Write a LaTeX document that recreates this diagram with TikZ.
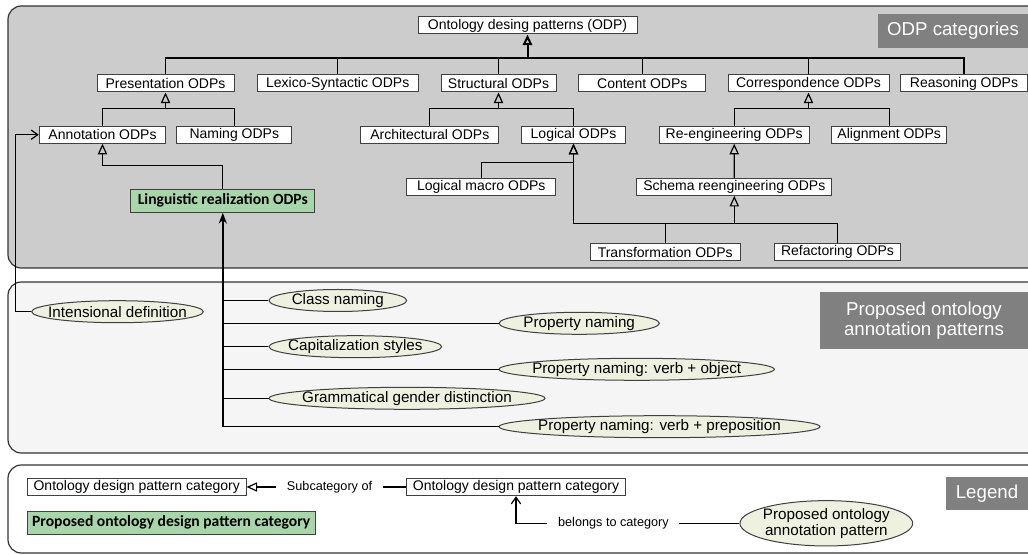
\documentclass[tikz,border=0pt]{standalone}
\usepackage{fontspec}
\setmainfont{Liberation Sans}
\newfontfamily\calibri{Carlito}
\usetikzlibrary{arrows.meta,shapes.geometric}
\definecolor{panelgray}{RGB}{204,204,204}
\definecolor{panellight}{RGB}{245,245,245}
\definecolor{taggray}{RGB}{128,128,128}
\definecolor{newgreen}{RGB}{168,213,170}
\definecolor{annofill}{RGB}{238,240,224}

\begin{document}
\begin{tikzpicture}[x=0.75pt,y=-0.75pt,line width=0.9pt,
  wd/.style={minimum width=#1*0.75pt},
  odp/.style={draw=black!75,line width=0.75pt,fill=white,inner xsep=2pt,inner ysep=0pt,
    minimum height=12.75pt,font=\fontsize{10.5}{12}\selectfont},
  newodp/.style={odp,fill=newgreen,minimum height=17.25pt,
    font=\calibri\bfseries\fontsize{11.7}{13}\selectfont},
  anno/.style={ellipse,draw=black!75,line width=0.75pt,fill=annofill,inner sep=-2cm,
    minimum height=16.5pt,font=\fontsize{11.4}{12}\selectfont},
  tag/.style={fill=taggray,text=white,inner sep=0pt,align=center,
    font=\fontsize{14}{15}\selectfont},
  sub/.style={-{Triangle[open,length=8pt,width=7pt]}},
  belong/.style={-{Straight Barb[length=5pt,width=7pt]}},
  note/.style={fill=white,inner xsep=8pt,inner ysep=1pt,font=\fontsize{9.5}{11}\selectfont}]
  \useasboundingbox (0,0) rectangle (1028,555);

  \fill[panelgray,rounded corners=10] (1040,6) -- (8,6) -- (8,268) -- (1040,268) -- cycle;
  \draw[black!80,rounded corners=10] (1040,6) -- (8,6) -- (8,268) -- (1040,268);
  \fill[panellight,rounded corners=10] (1040,282) -- (8,282) -- (8,453) -- (1040,453) -- cycle;
  \draw[black!80,rounded corners=10] (1040,282) -- (8,282) -- (8,453) -- (1040,453);
  \draw[black!80,rounded corners=10] (1040,465) -- (8,465) -- (8,553) -- (1040,553);

  \node[tag,minimum width=150*0.75pt,minimum height=34*0.75pt] (tagodp) at (953,31) {ODP categories};
  \node[tag,minimum width=208*0.75pt,minimum height=57*0.75pt] (taganno) at (924,320.5) {Proposed ontology\\annotation patterns};
  \node[tag,minimum width=82*0.75pt,minimum height=33*0.75pt] (taglegend) at (987,493.5) {Legend};

  \node[odp,wd=219] (odp) at (527.5,25.5) {Ontology desing patterns (ODP)};
  \node[odp,wd=137] (pres) at (165.5,83.5) {Presentation ODPs};
  \node[odp,wd=161] (lexsyn) at (337.7,83.5) {Lexico-Syntactic ODPs};
  \node[odp,wd=115] (struct) at (498.5,83.5) {Structural ODPs};
  \node[odp,wd=126.7] (content) at (642.3,83.5) {Content ODPs};
  \node[odp,wd=161] (corresp) at (808.5,83.5) {Correspondence ODPs};
  \node[odp,wd=126.3] (reason) at (964,83.5) {Reasoning ODPs};
  \node[odp,wd=126.4] (annot) at (102.5,134.7) {Annotation ODPs};
  \node[odp,wd=115.3] (naming) at (234.3,134.7) {Naming ODPs};
  \node[odp,wd=138.3] (archit) at (429.8,134.7) {Architectural ODPs};
  \node[odp,wd=103.6] (logical) at (573.5,134.7) {Logical ODPs};
  \node[odp,wd=149.7] (reeng) at (734.2,134.7) {Re-engineering ODPs};
  \node[odp,wd=115] (align) at (889.2,134.7) {Alignment ODPs};
  \node[newodp,wd=184.3,minimum height=23*0.75pt] (lingreal) at (222.8,200.8) {Linguistic realization ODPs};
  \node[odp,wd=149.3] (logmacro) at (481.3,186.8) {Logical macro ODPs};
  \node[odp,wd=195.3] (schema) at (734.3,186.8) {Schema reengineering ODPs};
  \node[odp,wd=149.7] (transf) at (665.2,252) {Transformation ODPs};
  \node[odp,wd=126.4] (refact) at (837.5,252) {Refactoring ODPs};

  \node[anno,wd=171.7] (intens) at (117.5,311.7) {Intensional definition};
  \node[anno,wd=137.7] (classnam) at (337.8,300.5) {Class naming};
  \node[anno,wd=160.3] (propnam) at (579.2,323.3) {Property naming};
  \node[anno,wd=172.7] (capital) at (355.3,346.7) {Capitalization styles};
  \node[anno,wd=275.3] (propobj) at (636.7,369.3) {Property naming: verb + object};
  \node[anno,wd=276] (gender) at (407,398.3) {Grammatical gender distinction};
  \node[anno,wd=321] (propprep) at (659.5,426.7) {Property naming: verb + preposition};

  \node[odp,wd=218.7,minimum height=17.4*0.75pt] (legcat) at (136.7,487) {Ontology design pattern category};
  \node[odp,wd=218.6,minimum height=17.4*0.75pt] (legsup) at (516,487) {Ontology design pattern category};
  \node[newodp,wd=287.7,minimum height=23*0.75pt] (legnew) at (171.2,522.8) {Proposed ontology design pattern category};
  \node[anno,wd=172.7,minimum height=45.3*0.75pt,align=center,font=\fontsize{11.4}{12}\selectfont] (leganno) at (826.3,523.3) {Proposed ontology\\annotation pattern};

  \draw (pres.north) -- ++(0,-16.5) coordinate (busA) -| (reason.north);
  \foreach \n in {lexsyn,struct,content,corresp}
    \draw (\n.north) -- (\n.north |- busA);
  \draw[sub,line width=1.5pt] (odp.south |- busA) -- (odp.south);

  \draw (annot.north) -- ++(0,-17) coordinate (busB) -| (naming.north);
  \draw[sub] (pres.south |- busB) -- (pres.south);
  \draw (archit.north) -- (archit.north |- busB) -| (logical.north);
  \draw[sub] (struct.south |- busB) -- (struct.south);
  \draw (reeng.north) -- (reeng.north |- busB) -| (align.north);
  \draw[sub] (corresp.south |- busB) -- (corresp.south);

  \draw[sub] (lingreal.north) -- ++(0,-23.3) -| (annot.south);
  \draw[sub] (logmacro.north) -- ++(0,-15.6) -| (logical.south);
  \draw[sub] (schema.north) -- (reeng.south);
  \draw (transf.north) -- ++(0,-19.3) coordinate (busC);
  \draw (logical.south |- busC) -- (refact.north |- busC) -- (refact.north);
  \draw[sub] (logical.south |- busC) -- (logical.south);
  \draw[sub] (schema.south |- busC) -- (schema.south);

  \draw[-{Stealth[length=8pt,width=6pt,inset=2.5pt]},line width=1.8pt] (lingreal.south |- propprep) -- (lingreal.south);
  \foreach \n in {classnam,propnam,capital,propobj,gender,propprep}
    \draw (lingreal.south |- \n) -- (\n.west);
  \draw[belong] (intens.west) -- ++(-15.7,0) |- (annot.west);

  \draw[sub] (legsup.west) -- node[note,pos=0.48] {Subcategory of} (legcat.east);
  \draw[belong] (leganno.west) -- node[note,pos=0.564] {belongs to category} (legsup.south |- leganno.west) -- (legsup.south);
\end{tikzpicture}
\end{document}
